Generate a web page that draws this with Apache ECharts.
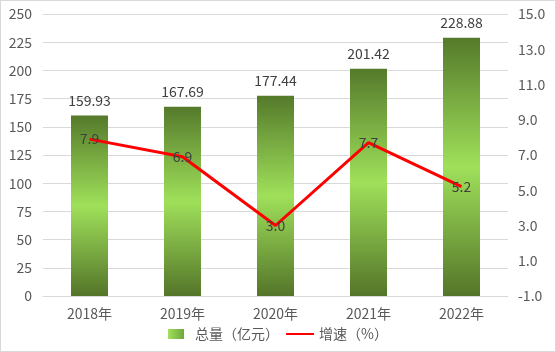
<!doctype html>
<html>
<head>
  <meta charset="UTF-8" />
  <title>总量与增速</title>
  <script src="https://cdn.jsdelivr.net/npm/echarts@6.0.0/dist/echarts.min.js"></script>
  <style>
    html, body { margin: 0; padding: 0; background: #ffffff; }
    #chart {
      width: 554px;
      height: 350px;
      border: 1px solid #d9d9d9;
    }
  </style>
</head>
<body>
  <div id="chart"></div>
  <script>
    const years = ["2018年", "2019年", "2020年", "2021年", "2022年"];
    const totals = [159.93, 167.69, 177.44, 201.42, 228.88];
    const growth = [7.9, 6.9, 3.0, 7.7, 5.2];

    const font = '"Noto Sans CJK SC", "Microsoft YaHei", sans-serif';
    const chart = echarts.init(document.getElementById("chart"));

    const barColor = new echarts.graphic.LinearGradient(0, 0, 0, 1, [
      { offset: 0, color: "#557a2b" },
      { offset: 0.5, color: "#9fe05a" },
      { offset: 1, color: "#547529" },
    ]);

    const option = {
      animation: false,
      textStyle: { fontFamily: font },
      grid: { left: 42, right: 47, top: 13, bottom: 55 },
      legend: {
        bottom: 5,
        left: "center",
        itemGap: 6,
        itemWidth: 28,
        itemHeight: 10,
        symbolKeepAspect: true,
        textStyle: { fontSize: 14, color: "#595959", fontFamily: font },
        data: [
          {
            name: "总量（亿元）",
            icon: "path://M0,0 H16 V10 H0 Z",
            itemStyle: {
              color: new echarts.graphic.LinearGradient(1, 0, 0, 0, [
                { offset: 0, color: "#6fa83a" },
                { offset: 1, color: "#9fe05a" },
              ]),
            },
          },
          { name: "增速（%）", itemStyle: { opacity: 0 } },
        ],
      },
      xAxis: {
        type: "category",
        data: years,
        axisLine: { lineStyle: { color: "#d9d9d9" } },
        axisTick: { show: false },
        axisLabel: { color: "#595959", fontSize: 14, margin: 11 },
      },
      yAxis: [
        {
          type: "value",
          min: 0,
          max: 250,
          interval: 25,
          axisLine: { show: false },
          axisTick: { show: false },
          axisLabel: { color: "#595959", fontSize: 14, margin: 11 },
          splitLine: { lineStyle: { color: "#d9d9d9" } },
        },
        {
          type: "value",
          min: -1,
          max: 15,
          interval: 2,
          axisLine: { show: false },
          axisTick: { show: false },
          splitLine: { show: false },
          axisLabel: {
            color: "#595959",
            fontSize: 14,
            margin: 10,
            formatter: (v) => v.toFixed(1),
          },
        },
      ],
      series: [
        {
          name: "总量（亿元）",
          type: "bar",
          data: totals,
          barWidth: 37,
          itemStyle: { color: barColor },
          label: {
            show: true,
            position: "top",
            distance: 8,
            color: "#404040",
            fontSize: 14,
            formatter: (p) => p.value.toFixed(2),
          },
        },
        {
          name: "增速（%）",
          type: "line",
          yAxisIndex: 1,
          data: growth,
          symbol: "circle",
          symbolSize: 0.1,
          lineStyle: { color: "#ff0000", width: 3 },
          itemStyle: { color: "#ff0000" },
          label: {
            show: true,
            position: "inside",
            color: "#404040",
            fontSize: 14,
            formatter: (p) => p.value.toFixed(1),
          },
        },
      ],
    };

    chart.setOption(option);
  </script>
</body>
</html>
